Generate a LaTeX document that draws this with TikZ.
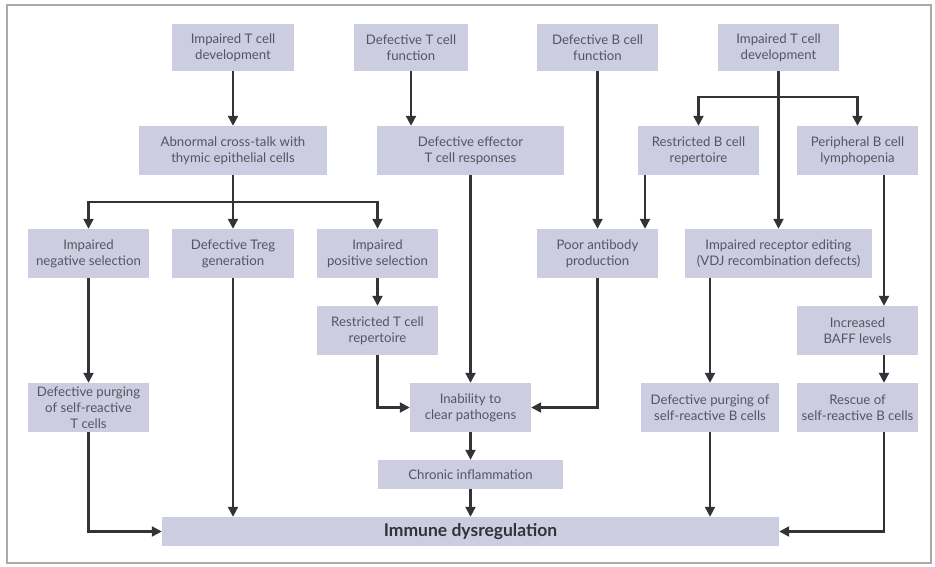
\documentclass[tikz,border=0pt]{standalone}
\usepackage{fontspec}
\setmainfont{Lato}
\usetikzlibrary{arrows.meta}
\definecolor{boxc}{RGB}{205,205,226}
\definecolor{txtc}{RGB}{85,85,95}
\definecolor{arrc}{RGB}{50,50,55}
\definecolor{framec}{RGB}{170,170,170}
\begin{document}
\begin{tikzpicture}[x=1pt,y=-1pt,
  box/.style={fill=boxc, text=txtc, align=center, inner sep=0pt,
    font=\fontsize{13.2}{16}\selectfont},
  arr/.style={draw=arrc, line width=2.2pt, -{Triangle[length=10pt,width=10pt]}},
]
\useasboundingbox (0,0) rectangle (935,567);
\draw[framec, line width=1.5pt] (7,5) rectangle (931,563);
% row 1
\node[box, minimum width=122, minimum height=47] (n1) at (233,47.5) {Impaired T cell\\development};
\node[box, minimum width=114, minimum height=47] (n2) at (411,47.5) {Defective T cell\\function};
\node[box, minimum width=121, minimum height=47] (n3) at (597.5,47.5) {Defective B cell\\function};
\node[box, minimum width=121, minimum height=47] (n4) at (778.5,47.5) {Impaired T cell\\development};
% row 2
\node[box, minimum width=188, minimum height=49] (n5) at (233,150.5) {Abnormal cross-talk with\\thymic epithelial cells};
\node[box, minimum width=187, minimum height=49] (n6) at (470.5,150.5) {Defective effector\\T cell responses};
\node[box, minimum width=121, minimum height=49] (n7) at (698.5,150.5) {Restricted B cell\\repertoire};
\node[box, minimum width=121, minimum height=49] (n8) at (857.5,150.5) {Peripheral B cell\\lymphopenia};
% row 3
\node[box, minimum width=121, minimum height=49] (n9) at (88.5,253.5) {Impaired\\negative selection};
\node[box, minimum width=122, minimum height=49] (n10) at (233,253.5) {Defective Treg\\generation};
\node[box, minimum width=121, minimum height=49] (n11) at (377.5,253.5) {Impaired\\positive selection};
\node[box, minimum width=121, minimum height=49] (n12) at (597.5,253.5) {Poor antibody\\production};
\node[box, minimum width=187, minimum height=49] (n13) at (778.5,253.5) {Impaired receptor editing\\(VDJ recombination defects)};
% row 4
\node[box, minimum width=121, minimum height=49] (n14) at (377.5,330.5) {Restricted T cell\\repertoire};
\node[box, minimum width=121, minimum height=49] (n15) at (857.5,330.5) {Increased\\BAFF levels};
% row 5
\node[box, minimum width=121, minimum height=49] (n16) at (88.5,407.5) {Defective purging\\of self-reactive\\T cells};
\node[box, minimum width=121, minimum height=49] (n17) at (470.5,407.5) {Inability to\\clear pathogens};
\node[box, minimum width=138, minimum height=49] (n18) at (710,407.5) {Defective purging of\\self-reactive B cells};
\node[box, minimum width=121, minimum height=49] (n19) at (857.5,407.5) {Rescue of\\self-reactive B cells};
% row 6
\node[box, minimum width=185, minimum height=29] (n20) at (470.5,474.5) {Chronic inflammation};
\node[box, minimum width=617, minimum height=29, font=\fontsize{17.5}{20}\selectfont\bfseries, text=arrc] (n21) at (470.5,531.5) {Immune dysregulation};
% helper coordinates
\coordinate (b1) at (233,202);
\coordinate (b2) at (778.5,97);
\coordinate (c645) at (645,0);
\coordinate (c884) at (884,0);
% connectors
\draw[arr] (n1) -- (n5);
\draw[arr] (n2.south) -- (n2.south |- n6.north);
\draw[arr] (n3) -- (n12);
\draw[arr] (n4) -- (n13);
\draw[arr] (b2) -| (n7.north);
\draw[arr] (b2) -| (n8.north);
\draw[arr] (n5) -- (n10);
\draw[arr] (b1) -| (n9.north);
\draw[arr] (b1) -| (n11.north);
\draw[arr] (n6) -- (n17);
\draw[arr] (n7.south -| c645) -- (n12.north -| c645);
\draw[arr] (n9) -- (n16);
\draw[arr] (n16.south) |- (n21.west);
\draw[arr] (n10.south) -- (n10.south |- n21.north);
\draw[arr] (n11) -- (n14);
\draw[arr] (n14.south) |- (n17.west);
\draw[arr] (n12.south) |- (n17.east);
\draw[arr] (n17) -- (n20);
\draw[arr] (n20) -- (n21);
\draw[arr] (n13.south -| n18) -- (n18.north);
\draw[arr] (n18.south) -- (n18.south |- n21.north);
\draw[arr] (n8.south -| c884) -- (n15.north -| c884);
\draw[arr] (n15.south -| c884) -- (n19.north -| c884);
\draw[arr] (n19.south -| c884) |- (n21.east);
\end{tikzpicture}
\end{document}
